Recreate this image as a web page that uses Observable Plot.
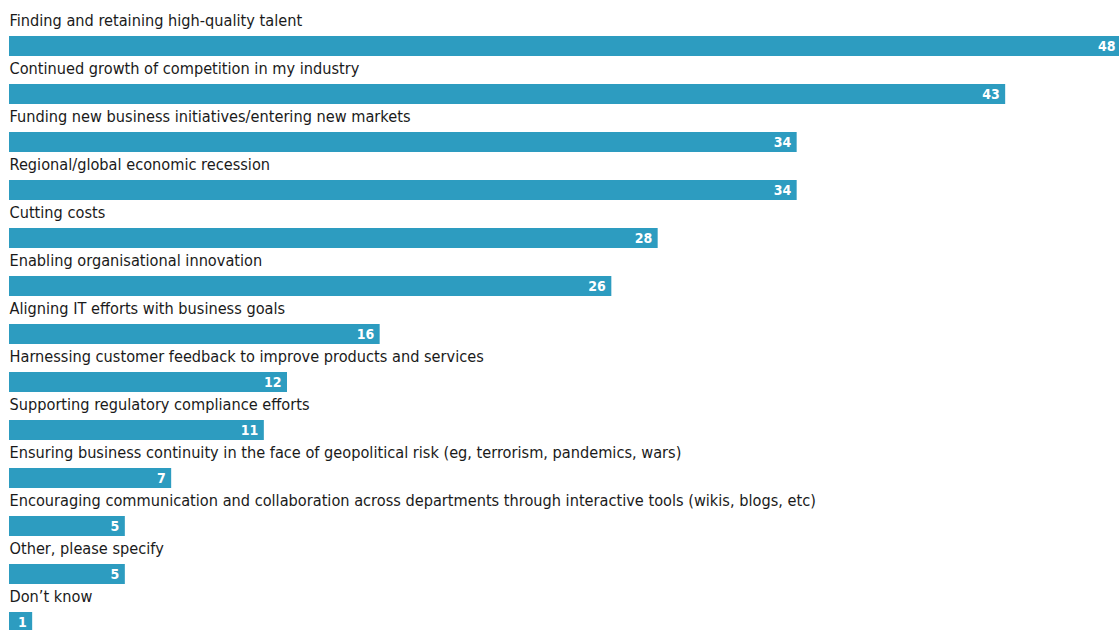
<!DOCTYPE html>
<html>
<head>
<meta charset="utf-8">
<script src="https://cdn.jsdelivr.net/npm/d3@7"></script>
<script src="https://cdn.jsdelivr.net/npm/@observablehq/plot@0.6"></script>
<style>
  body { margin: 0; background: #fff; }
</style>
</head>
<body>
<div id="chart"></div>
<script>
// Survey answers, percentage of respondents
const categories = [
  "Finding and retaining high-quality talent",
  "Continued growth of competition in my industry",
  "Funding new business initiatives/entering new markets",
  "Regional/global economic recession",
  "Cutting costs",
  "Enabling organisational innovation",
  "Aligning IT efforts with business goals",
  "Harnessing customer feedback to improve products and services",
  "Supporting regulatory compliance efforts",
  "Ensuring business continuity in the face of geopolitical risk (eg, terrorism, pandemics, wars)",
  "Encouraging communication and collaboration across departments through interactive tools (wikis, blogs, etc)",
  "Other, please specify",
  "Don\u2019t know"
];
const values = [48, 43, 34, 34, 28, 26, 16, 12, 11, 7, 5, 5, 1];

const data = categories.map((category, i) => ({category, value: values[i]}));

const font = "'DejaVu Sans Condensed', 'DejaVu Sans', sans-serif";

const chart = Plot.plot({
  width: 1119,
  height: 630,
  margin: 0,
  x: {domain: [0, 48], range: [9, 1121], axis: null},
  y: {domain: categories, range: [8, 632], padding: 0, axis: null},
  style: {fontFamily: font, background: "white"},
  marks: [
    // bar sits in the lower part of each row, label above it
    Plot.barX(data, {x: "value", y: "category", fill: "#2d9cc0", insetTop: 28}),
    Plot.text(data, {
      x: 0, y: "category", text: "category",
      textAnchor: "start", dy: -12, fontSize: 16.2, fill: "#1a1a1a"
    }),
    Plot.text(data, {
      x: "value", y: "category", text: d => String(d.value),
      textAnchor: "end", dx: -6, dy: 14,
      fill: "white", fontWeight: "bold", fontSize: 14
    })
  ]
});
document.getElementById("chart").append(chart);
</script>
</body>
</html>
